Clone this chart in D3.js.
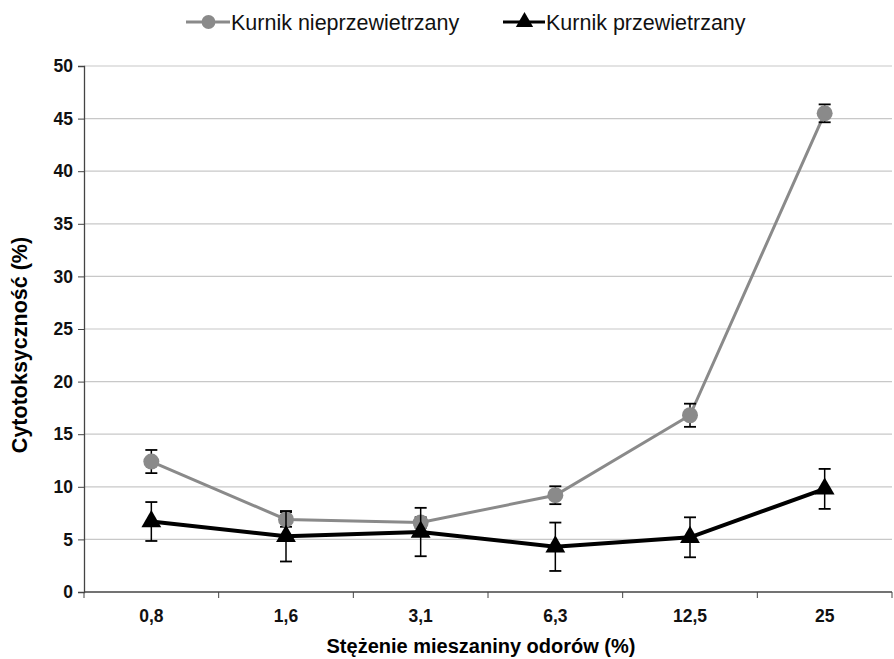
<!DOCTYPE html>
<html>
<head>
<meta charset="utf-8">
<script src="https://cdn.jsdelivr.net/npm/d3@7"></script>
<style>
  body { margin: 0; background: #fff; }
  svg { display: block; }
  .tick text { font-family: "Liberation Sans", Arial, sans-serif; font-weight: bold; font-size: 17.5px; fill: #111; }
</style>
</head>
<body>
<div id="vis"></div>
<script>
// concentrations of the odour mixture (%)
var categories = ["0,8", "1,6", "3,1", "6,3", "12,5", "25"];
// cytotoxicity (%) - unventilated house
var unventMean = [12.4, 6.9, 6.6, 9.2, 16.8, 45.5];
var unventErr  = [1.1, 0.7, 0.5, 0.85, 1.1, 0.85];
// cytotoxicity (%) - ventilated house
var ventMean = [6.7, 5.3, 5.7, 4.3, 5.2, 9.8];
var ventErr  = [1.85, 2.4, 2.3, 2.3, 1.9, 1.9];
var yTicks = [0, 5, 10, 15, 20, 25, 30, 35, 40, 45, 50];
var seriesNames = ["Kurnik nieprzewietrzany", "Kurnik przewietrzany"];

var W = 894, H = 659;
var margin = {top: 66, right: 2, bottom: 67, left: 84},
    width = W - margin.left - margin.right,
    height = H - margin.top - margin.bottom;

var svg = d3.select("#vis").append("svg")
    .attr("width", W)
    .attr("height", H);

var g = svg.append("g")
    .attr("transform", "translate(" + margin.left + "," + margin.top + ")");

var x = d3.scaleBand().domain(categories).range([0, 808]);
var y = d3.scaleLinear().domain([0, 50]).range([height, 0]);

// grid
g.append("g")
  .selectAll("line")
  .data(yTicks.filter(function(d) { return d > 0; }))
  .enter().append("line")
  .attr("x1", 0).attr("x2", width)
  .attr("y1", function(d) { return y(d); })
  .attr("y2", function(d) { return y(d); })
  .attr("stroke", "#c8c8c8")
  .attr("stroke-width", 1.2);

// y axis
var yAxis = g.append("g")
  .call(d3.axisLeft(y).tickValues(yTicks).tickSize(6).tickPadding(5));
yAxis.select(".domain").attr("stroke", "#444").attr("stroke-width", 1.3);
yAxis.selectAll(".tick line").attr("stroke", "#444");

// x axis
var xAxis = g.append("g")
  .attr("transform", "translate(0," + height + ")")
  .call(d3.axisBottom(x).tickSize(0).tickPadding(18));
xAxis.select(".domain").remove();
g.append("line")
  .attr("x1", 0).attr("x2", width)
  .attr("y1", height).attr("y2", height)
  .attr("stroke", "#444").attr("stroke-width", 1.3);
g.append("g").selectAll("line")
  .data(categories.concat(["end"]))
  .enter().append("line")
  .attr("x1", function(d, i) { return i * x.step(); })
  .attr("x2", function(d, i) { return i * x.step(); })
  .attr("y1", height).attr("y2", height + 6)
  .attr("stroke", "#444");

var cx = function(d, i) { return x(categories[i]) + x.bandwidth() / 2; };

function drawSeries(means, errs, color, lineW, symbol, symSize) {
  var line = d3.line()
    .x(function(d, i) { return cx(d, i); })
    .y(function(d) { return y(d); });

  g.append("path")
    .datum(means)
    .attr("fill", "none")
    .attr("stroke", color)
    .attr("stroke-width", lineW)
    .attr("d", line);

  var eb = g.append("g").selectAll("g")
    .data(means)
    .enter().append("g");
  eb.append("line")
    .attr("x1", cx).attr("x2", cx)
    .attr("y1", function(d, i) { return y(d + errs[i]); })
    .attr("y2", function(d, i) { return y(d - errs[i]); })
    .attr("stroke", "#000").attr("stroke-width", 1.5);
  eb.append("line")
    .attr("x1", function(d, i) { return cx(d, i) - 6; })
    .attr("x2", function(d, i) { return cx(d, i) + 6; })
    .attr("y1", function(d, i) { return y(d + errs[i]); })
    .attr("y2", function(d, i) { return y(d + errs[i]); })
    .attr("stroke", "#000").attr("stroke-width", 1.8);
  eb.append("line")
    .attr("x1", function(d, i) { return cx(d, i) - 6; })
    .attr("x2", function(d, i) { return cx(d, i) + 6; })
    .attr("y1", function(d, i) { return y(d - errs[i]); })
    .attr("y2", function(d, i) { return y(d - errs[i]); })
    .attr("stroke", "#000").attr("stroke-width", 1.8);

  g.append("g").selectAll("path")
    .data(means)
    .enter().append("path")
    .attr("d", d3.symbol().type(symbol).size(symSize))
    .attr("transform", function(d, i) { return "translate(" + cx(d, i) + "," + y(d) + ")"; })
    .attr("fill", color);
}

drawSeries(unventMean, unventErr, "#8a8a8a", 3, d3.symbolCircle, 200);
drawSeries(ventMean, ventErr, "#000", 4, d3.symbolTriangle, 170);

// axis titles
svg.append("text")
  .attr("transform", "translate(27,345) rotate(-90)")
  .attr("text-anchor", "middle")
  .style("font-family", "Liberation Sans, Arial, sans-serif")
  .style("font-weight", "bold")
  .style("font-size", "21.5px")
  .text("Cytotoksyczność (%)");

svg.append("text")
  .attr("x", 481).attr("y", 653)
  .attr("text-anchor", "middle")
  .style("font-family", "Liberation Sans, Arial, sans-serif")
  .style("font-weight", "bold")
  .style("font-size", "20px")
  .text("Stężenie mieszaniny odorów (%)");

// legend
var legend = svg.append("g").attr("transform", "translate(0,22)");
var legItems = [
  {x: 186, tx: 231, color: "#8a8a8a", sym: d3.symbolCircle, size: 150},
  {x: 503, tx: 546, color: "#000", sym: d3.symbolTriangle, size: 130}
];
legItems.forEach(function(it, i) {
  legend.append("line")
    .attr("x1", it.x).attr("x2", it.tx - 1)
    .attr("y1", 0).attr("y2", 0)
    .attr("stroke", it.color).attr("stroke-width", 3);
  legend.append("path")
    .attr("d", d3.symbol().type(it.sym).size(it.size))
    .attr("transform", "translate(" + ((it.x + it.tx) / 2) + ",0)")
    .attr("fill", it.color);
  legend.append("text")
    .attr("x", it.tx).attr("y", 8)
    .style("font-family", "Liberation Sans, Arial, sans-serif")
    .style("font-size", "21.5px")
    .attr("fill", "#111")
    .text(seriesNames[i]);
});
</script>
</body>
</html>
